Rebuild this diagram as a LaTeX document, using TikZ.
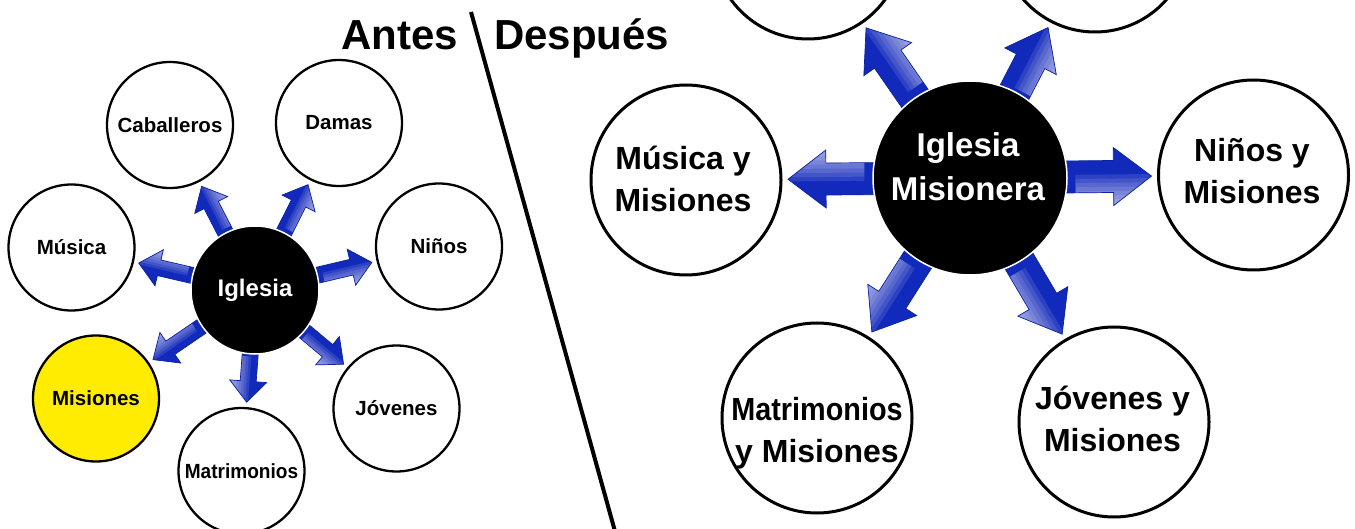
\documentclass[tikz,border=0pt]{standalone}
\usepackage{fontspec}
\setmainfont{Liberation Sans}
\usepackage{graphicx}
\usetikzlibrary{calc}
\definecolor{arrowblue}{RGB}{18,42,188}
\definecolor{arrowdark}{RGB}{12,32,160}
\definecolor{misyellow}{RGB}{255,236,0}
\tikzset{
  smallc/.style={circle, draw=black, line width=2.3pt, fill=white, minimum size=126pt, inner sep=0pt,
    font=\bfseries\fontsize{20.5}{24}\selectfont, align=center},
  bigc/.style={circle, draw=black, line width=3pt, fill=white, minimum size=190pt, inner sep=0pt},
  bigtext/.style={anchor=north, inner sep=0pt, align=center, font=\bfseries\fontsize{32}{42}\selectfont},
  hubL/.style={circle, draw=white, line width=1.5pt, fill=black, text=white, minimum size=128pt, inner sep=0pt,
    font=\bfseries\fontsize{24}{28}\selectfont},
  hubR/.style={circle, draw=white, line width=1.5pt, fill=black, minimum size=194pt, inner sep=0pt},
  hubtext/.style={anchor=north, inner sep=0pt, align=center, text=white, font=\bfseries\fontsize{33}{44}\selectfont},
  titletext/.style={anchor=base west, inner sep=0pt, font=\bfseries\fontsize{42}{48}\selectfont},
  arrowline/.style={draw=arrowdark, line width=0.7pt, line join=miter},
  arrowgloss/.style={fill=white, opacity=0.11},
}
% #1 from node, #2 to node, #3 start distance from #1, #4 tip distance from centre of #2,
% #5 shaft half width, #6 head half width, #7 head length
\newcommand{\blockarr}[7]{%
  \coordinate (ba-a) at ($(#1.center)!#3!(#2.center)$);
  \coordinate (ba-b) at ($(#2.center)!#4!(#1.center)$);
  \coordinate (ba-h) at ($(ba-b)!#7!(ba-a)$);
  \coordinate (ba-s) at ($(ba-a)!0.4!(ba-h)$);
  \fill[arrowblue] ($(ba-a)!#5!90:(ba-b)$) -- ($(ba-h)!#5!90:(ba-b)$) -- ($(ba-h)!#6!90:(ba-b)$)
    -- (ba-b) -- ($(ba-h)!#6!-90:(ba-b)$) -- ($(ba-h)!#5!-90:(ba-b)$) -- ($(ba-a)!#5!-90:(ba-b)$) -- cycle;
  \begin{scope}
    \clip ($(ba-a)!#5!90:(ba-b)$) -- ($(ba-h)!#5!90:(ba-b)$) -- ($(ba-h)!#6!90:(ba-b)$)
      -- (ba-b) -- ($(ba-h)!#6!-90:(ba-b)$) -- ($(ba-h)!#5!-90:(ba-b)$) -- ($(ba-a)!#5!-90:(ba-b)$) -- cycle;
    \foreach \k in {0,...,6}{%
      \pgfmathsetmacro\baoff{(\k-0.5)*#6/7}%
      \fill[arrowgloss] ($(ba-s)!\baoff pt!-90:(ba-b)$) -- ($(ba-s)!#6+3pt!-90:(ba-b)$)
        -- ($(ba-b)!#6+3pt!90:(ba-a)$) -- ($(ba-b)!\baoff pt!90:(ba-a)$) -- cycle;
    }
  \end{scope}
  \path[arrowline] ($(ba-a)!#5!90:(ba-b)$) -- ($(ba-h)!#5!90:(ba-b)$) -- ($(ba-h)!#6!90:(ba-b)$)
    -- (ba-b) -- ($(ba-h)!#6!-90:(ba-b)$) -- ($(ba-h)!#5!-90:(ba-b)$) -- ($(ba-a)!#5!-90:(ba-b)$) -- cycle;
}
\begin{document}
\begin{tikzpicture}[x=1pt, y=-1pt]
\useasboundingbox (0,0) rectangle (1355,529);
\clip (0,0) rectangle (1355,529);
\fill[white] (0,0) rectangle (1355,529);

% ---------- Antes ----------
\node[smallc] (cab) at (170,125) {Caballeros};
\node[smallc] (dam) at (339,123) {Damas};
\node[smallc] (mus) at (71.5,247.5) {Música};
\node[smallc] (nin) at (439,246.5) {Niños};
\node[smallc, fill=misyellow] (mis) at (96,398.5) {Misiones};
\node[smallc] (mat) at (241.5,471) {\scalebox{0.93}[1]{Matrimonios}};
\node[smallc] (jov) at (396.5,408.5) {Jóvenes};
\node[circle, minimum size=128pt, inner sep=0pt] (hubLc) at (255,290) {};
\foreach \t in {cab,dam,mus,nin,mis,mat,jov}{\blockarr{hubLc}{\t}{50pt}{69pt}{8pt}{18.5pt}{21pt}}
\node[hubL] (hubL) at (hubLc) {Iglesia};

% ---------- Después ----------
\node[bigc] (tl) at (808,-56) {};
\node[bigc] (tr) at (1095,-63) {};
\node[bigc] (musR) at (686,180) {};
\node[bigc] (ninR) at (1253.5,175) {};
\node[bigc] (matR) at (817,418) {};
\node[bigc] (jovR) at (1114,422) {};
\node[circle, minimum size=194pt, inner sep=0pt] (hubRc) at (970,178) {};
\foreach \t in {tl,tr,musR,ninR,matR,jovR}{\blockarr{hubRc}{\t}{80pt}{102pt}{16pt}{29pt}{38pt}}
\node[hubR] (hubR) at (hubRc) {};
\node[hubtext] (hubRt) at (968,132) {Iglesia\\Misionera};
\node[bigtext] (musRt) at (683,146) {Música y\\Misiones};
\node[bigtext] (ninRt) at (1252,138) {Niños y\\Misiones};
\node[bigtext] (matRt) at (817,397) {\scalebox{0.9}[1]{Matrimonios}\\y Misiones};
\node[bigtext] (jovRt) at (1112.5,386) {Jóvenes y\\Misiones};

% ---------- titles and divider ----------
\node[titletext] (antes) at (341,50) {Antes};
\node[titletext] (despues) at (494,50) {Después};
\coordinate (d1) at (471,12);
\coordinate (d2) at (616,535);
\draw[line width=4pt] (d1) -- (d2);
\end{tikzpicture}
\end{document}
